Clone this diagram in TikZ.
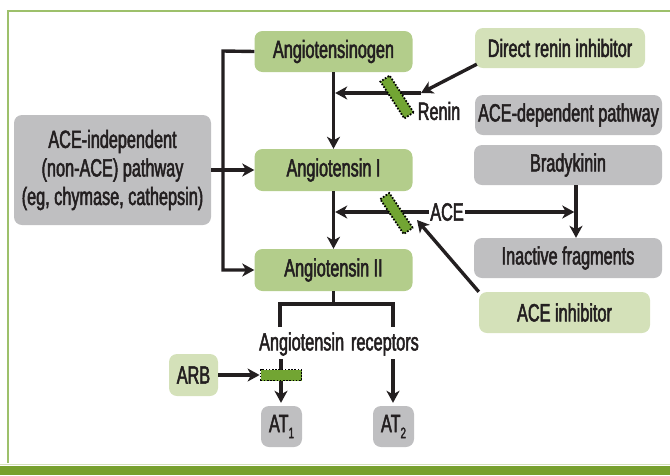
\documentclass[tikz,border=0pt]{standalone}
\usepackage{fontspec}
\setmainfont{Liberation Sans}[FakeStretch=0.65,FakeBold=2]
\usetikzlibrary{arrows.meta,calc}
\definecolor{gmid}{HTML}{B3CD8B}
\definecolor{glight}{HTML}{D4E1B9}
\definecolor{grayb}{HTML}{BFBFC1}
\definecolor{bargreen}{HTML}{72A533}
\definecolor{txt}{HTML}{231F20}
\definecolor{framegreen}{HTML}{9DC06B}
\definecolor{bandgreen}{HTML}{77A02E}
\begin{document}
\begin{tikzpicture}[x=1pt,y=-1pt,font=\fontsize{25}{28.5}\selectfont,
 box/.style={rounded corners=8pt, inner sep=0pt, align=center, text=txt},
 gbox/.style={box, fill=gmid},
 lbox/.style={box, fill=glight},
 ybox/.style={box, fill=grayb},
 arr/.style={line width=3.4pt, draw=txt, -{Stealth[length=12pt,width=13pt,inset=3.5pt]}},
 ln/.style={line width=3.4pt, draw=txt},
 blockbar/.style={draw=black, dash pattern=on 1.6pt off 1.6pt, line width=1.8pt, fill=bargreen, inner sep=0pt},
 lbl/.style={text=txt, inner sep=1pt}]
\useasboundingbox (0,0) rectangle (670,475);
% frame
\draw[framegreen, line width=2pt] (8,463) -- (8,11) -- (671,11);
\fill[bandgreen] (0,466) rectangle (670,475);
\draw[glight, line width=0.8pt] (0,464.5) -- (670,464.5);
% nodes
\node[gbox, minimum width=158pt, minimum height=41pt] (ago) at (333.5,51.5) {Angiotensinogen};
\node[gbox, minimum width=158pt, minimum height=42pt] (a1) at (333.5,170) {Angiotensin I};
\node[gbox, minimum width=158pt, minimum height=42pt] (a2) at (333.5,270) {Angiotensin II};
\node[ybox, minimum width=197pt, minimum height=110pt] (indep) at (112.5,170) {ACE-independent\\(non-ACE) pathway\\(eg, chymase, cathepsin)};
\node[lbox, minimum width=170pt, minimum height=40pt] (dri) at (560,48) {Direct renin inhibitor};
\node[ybox, minimum width=187pt, minimum height=40pt] (dep) at (568.5,115) {ACE-dependent pathway};
\node[ybox, minimum width=188pt, minimum height=40pt] (brady) at (568,165) {Bradykinin};
\node[ybox, minimum width=188pt, minimum height=40pt] (inact) at (568,258) {Inactive fragments};
\node[lbox, minimum width=171pt, minimum height=41pt] (acei) at (564.5,312.5) {ACE inhibitor};
\node[lbox, minimum width=49pt, minimum height=42pt] (arb) at (193.5,375) {ARB};
\node[ybox, minimum width=41pt, minimum height=41pt] (at1) at (281.5,426.5) {AT\raisebox{-6pt}{\fontsize{15}{15}\selectfont 1}};
\node[ybox, minimum width=41pt, minimum height=41pt] (at2) at (393.5,426.5) {AT\raisebox{-6pt}{\fontsize{15}{15}\selectfont 2}};
\node[lbl] (renin) at (439,111) {Renin};
\node[lbl] (ace) at (447,212) {ACE};
\node[lbl] (rec) at (339,344) {Angiotensin\hspace{7pt}receptors};
% main chain
\draw[arr] (ago.south) -- (a1.north);
\draw[arr] (a1.south) -- (a2.north);
% left bracket
\coordinate (bk) at (223,51);
\draw[arr] (ago.west) -- (bk) |- (a2.west);
\draw[arr] (indep.east) -- (indep.east -| a1.west);
% renin
\coordinate (rn) at (421,93);
\draw[arr, shorten >=1.7pt] (rn) -- (rn -| ago.south);
\draw[arr] ($(dri.south west)+(2,-4)$) -- (rn);
\node[blockbar, minimum width=44pt, minimum height=11pt, rotate=-57] (bren) at (397,97) {};
% ACE
\draw[arr, shorten >=1.7pt] (ace.west) -- (ace.west -| a1.south);
\coordinate (bx) at ($(brady.south)+(8,0)$);
\draw[arr, shorten >=1.7pt] (ace.east) -- (ace.east -| bx);
\draw[arr] (bx) -- ($(inact.north)+(8,0)$);
\coordinate (acetip) at (417,220);
\draw[arr] (acei.north west) -- (acetip);
\node[blockbar, minimum width=42pt, minimum height=11pt, rotate=-56] (bace) at (396.5,213.5) {};
% receptors
\coordinate (bj) at (333.5,304);
\coordinate (rl) at (280,327);
\coordinate (rr) at (393,327);
\draw[ln] (a2.south) -- (bj);
\draw[ln] (rl) |- (bj) -| (rr);
\coordinate (r1) at (281,359);
\coordinate (r2) at (393,359);
\draw[arr, shorten >=3pt] (r1) -- (r1 |- at1.north);
\draw[arr, shorten >=3pt] (r2) -- (r2 |- at2.north);
\node[blockbar, minimum width=41pt, minimum height=11pt] (barb) at (281,375) {};
\draw[arr] (arb.east) -- (barb.west);
\end{tikzpicture}
\end{document}
